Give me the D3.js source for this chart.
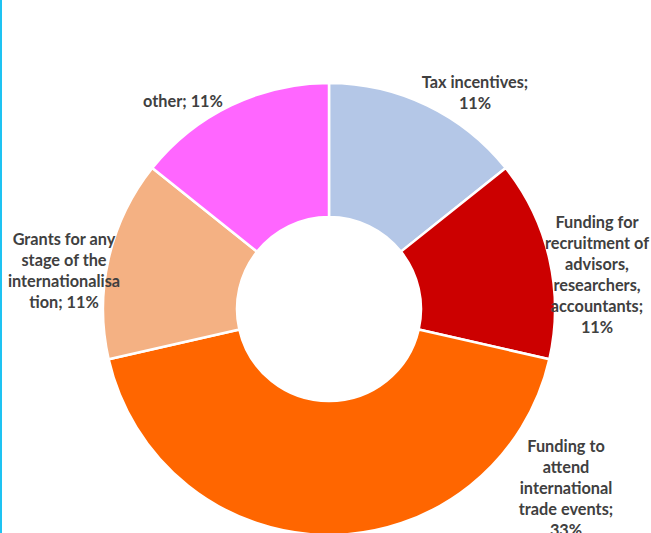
<!DOCTYPE html>
<html>
<head>
<meta charset="utf-8">
<script src="https://cdn.jsdelivr.net/npm/d3@7"></script>
<style>
  body { margin: 0; background: #fff; }
  svg { display: block; }
  .lbl { font-family: Lato, "Liberation Sans", sans-serif; font-weight: bold; font-size: 16.3px; fill: #404040; }
</style>
</head>
<body>
<svg width="651" height="533"></svg>
<script>
// slice names (clockwise from 12 o'clock) and their shares in %
const categories = ['Tax incentives', 'Funding for recruitment of advisors, researchers, accountants',
  'Funding to attend international trade events', 'Grants for any stage of the internationalisation', 'other']
const values = [11, 11, 33, 11, 11]
const colors = ['#b4c7e7', '#cc0000', '#ff6600', '#f4b183', '#ff66ff']

// how each label is broken into lines (as in the picture)
const labelLines = [
  ['Tax incentives;', '{v}'],
  ['Funding for', 'recruitment of', 'advisors,', 'researchers,', 'accountants;', '{v}'],
  ['Funding to', 'attend', 'international', 'trade events;', '{v}'],
  ['Grants for any', 'stage of the', 'internationalisa', 'tion; {v}'],
  ['other; {v}']
]
// label centres (middle of each text block)
const labelPos = [[475, 93], [597, 275], [566, 488], [64, 271], [183, 101]]

const svg = d3.select('svg')
const cx = 329, cy = 309
const outerR = 226, innerR = 92

// left edge accent line
svg.append('rect')
  .attr('x', 0).attr('y', 0)
  .attr('width', 2).attr('height', 533)
  .attr('fill', '#1ec3f2')

const pie = d3.pie().sort(null).value(d => d)
const arc = d3.arc().innerRadius(innerR).outerRadius(outerR)

const g = svg.append('g').attr('transform', `translate(${cx},${cy})`)

g.selectAll('path')
  .data(pie(values))
  .enter()
  .append('path')
  .attr('d', arc)
  .attr('fill', (d, i) => colors[i])
  .attr('stroke', '#fff')
  .attr('stroke-width', 2.5)
  .attr('stroke-linejoin', 'round')

// labels
const lineH = 21
labelLines.forEach((lines, i) => {
  const [x, y] = labelPos[i]
  const t = svg.append('text')
    .attr('class', 'lbl')
    .attr('text-anchor', 'middle')
  const top = y - (lines.length - 1) * lineH / 2
  lines.forEach((s, j) => {
    t.append('tspan')
      .attr('x', x)
      .attr('y', top + j * lineH)
      .attr('dy', '0.35em')
      .text(s.replace('{v}', values[i] + '%'))
  })
})
</script>
</body>
</html>
